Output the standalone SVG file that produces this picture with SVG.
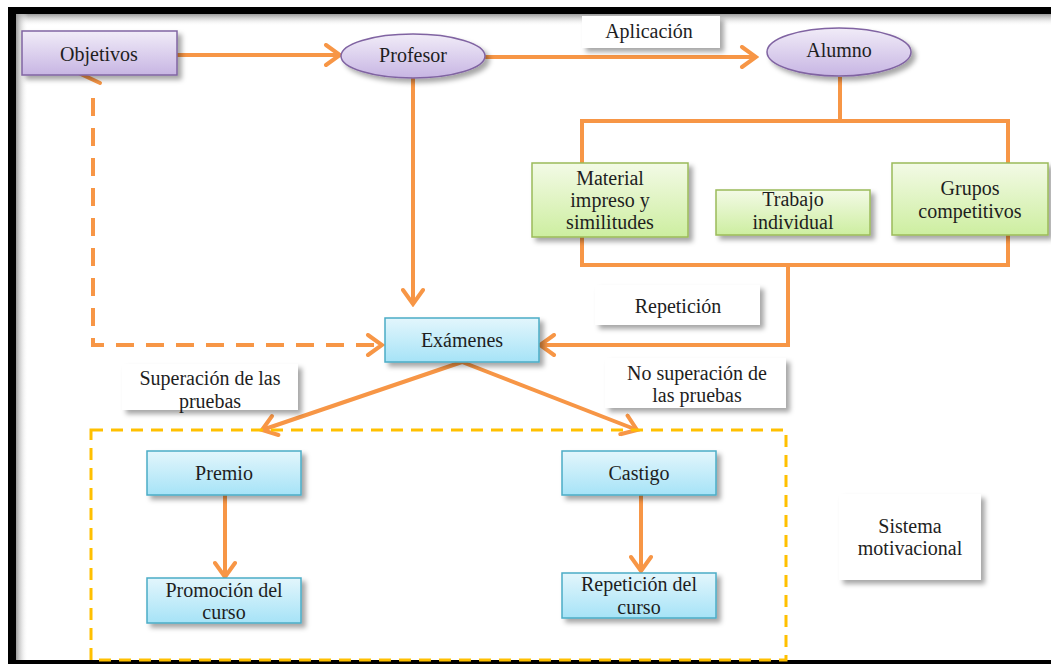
<svg xmlns="http://www.w3.org/2000/svg" width="1051" height="664" viewBox="0 0 1051 664">
  <style>
    .con { fill: none; stroke: #f79646; stroke-width: 4; stroke-linejoin: miter; }
    .dash { stroke-dasharray: 18 12; }
    .purple { fill: url(#gPurple); stroke: #8064a2; stroke-width: 1.5; filter: url(#shadow); }
    .green { fill: url(#gGreen); stroke: #9bbb59; stroke-width: 1.5; filter: url(#shadow); }
    .blue { fill: url(#gBlue); stroke: #4bacc6; stroke-width: 1.5; filter: url(#shadow); }
    .label { fill: #ffffff; filter: url(#shadow); }
  </style>
  <defs>
    <linearGradient id="gPurple" x1="0" y1="0" x2="0" y2="1">
      <stop offset="0" stop-color="#f1ecf8"/>
      <stop offset="1" stop-color="#c7b5e3"/>
    </linearGradient>
    <linearGradient id="gGreen" x1="0" y1="0" x2="0" y2="1">
      <stop offset="0" stop-color="#f3fae6"/>
      <stop offset="1" stop-color="#cdeea0"/>
    </linearGradient>
    <linearGradient id="gBlue" x1="0" y1="0" x2="0" y2="1">
      <stop offset="0" stop-color="#e3f6fc"/>
      <stop offset="1" stop-color="#a6e3f7"/>
    </linearGradient>
    <linearGradient id="gTopShade" x1="0" y1="0" x2="0" y2="1">
      <stop offset="0" stop-color="#9a9a9a"/>
      <stop offset="1" stop-color="#ffffff" stop-opacity="0"/>
    </linearGradient>
    <linearGradient id="gLeftShade" x1="0" y1="0" x2="1" y2="0">
      <stop offset="0" stop-color="#9a9a9a"/>
      <stop offset="1" stop-color="#ffffff" stop-opacity="0"/>
    </linearGradient>
    <filter id="shadow" x="-20%" y="-20%" width="150%" height="160%">
      <feDropShadow dx="4" dy="4" stdDeviation="2.5" flood-color="#000000" flood-opacity="0.35"/>
    </filter>
    <marker id="arrow" viewBox="0 0 20 24" refX="17" refY="12" markerWidth="20" markerHeight="24" markerUnits="userSpaceOnUse" orient="auto">
      <path d="M3,2 L17,12 L3,22" fill="none" stroke="#f79646" stroke-width="4" stroke-linecap="round"/>
    </marker>
  </defs>

  <!-- page frame -->
  <rect x="0" y="0" width="1051" height="664" fill="#ffffff"/>
  <rect x="16" y="14" width="1035" height="12" fill="url(#gTopShade)"/>
  <rect x="16" y="14" width="12" height="646" fill="url(#gLeftShade)"/>
  <rect x="8" y="7" width="1043" height="7" fill="#000000"/>
  <rect x="8" y="7" width="8" height="657" fill="#000000"/>
  <rect x="8" y="660" width="1043" height="4" fill="#000000"/>

  <!-- connectors -->
  <g id="connectors">
    <line class="con" x1="177" y1="55" x2="340" y2="55" marker-end="url(#arrow)"/>
    <line class="con" x1="485" y1="57" x2="756" y2="57" marker-end="url(#arrow)"/>
    <line class="con" x1="413" y1="78" x2="413" y2="304" marker-end="url(#arrow)"/>
    <polyline class="con" points="840,77 840,121"/>
    <polyline class="con" points="582,165 582,121 1008,121 1008,165"/>
    <polyline class="con" points="582,237 582,265 1008,265 1008,235"/>
    <polyline class="con" points="788,265 788,345 540,345" marker-end="url(#arrow)"/>
    <polyline class="con dash" points="93,98 93,345 382,345" marker-end="url(#arrow)"/>
    <path class="con" d="M100,67 L83,75 L100,83" stroke-linecap="round"/>
    <line class="con" x1="462" y1="362" x2="262" y2="430" marker-end="url(#arrow)"/>
    <line class="con" x1="462" y1="362" x2="637" y2="430" marker-end="url(#arrow)"/>
    <line class="con" x1="225" y1="495" x2="225" y2="577" marker-end="url(#arrow)"/>
    <line class="con" x1="641" y1="495" x2="641" y2="571" marker-end="url(#arrow)"/>
  </g>

  <!-- motivational system boundary -->
  <rect id="motivational-area" x="91" y="430" width="695" height="230" fill="none" stroke="#ffc000" stroke-width="3" stroke-dasharray="12 8"/>

  <g font-family="Liberation Serif, Times New Roman, serif" font-size="20" fill="#1e1e1e" text-anchor="middle">
    <!-- edge labels -->
    <g id="lbl-aplicacion">
      <rect class="label" x="582" y="16" width="138" height="32"/>
      <text x="649" y="38">Aplicación</text>
    </g>
    <g id="lbl-repeticion">
      <rect class="label" x="595" y="285" width="165" height="40"/>
      <text x="678" y="313">Repetición</text>
    </g>
    <g id="lbl-superacion">
      <rect class="label" x="122" y="364" width="176" height="46"/>
      <text x="210" y="385">Superación de las</text>
      <text x="210" y="408">pruebas</text>
    </g>
    <g id="lbl-no-superacion">
      <rect class="label" x="605" y="358" width="181" height="50"/>
      <text x="697" y="380">No superación de</text>
      <text x="697" y="402">las pruebas</text>
    </g>

    <!-- nodes -->
    <g id="objetivos">
      <rect class="purple" x="22" y="31" width="155" height="44"/>
      <text x="99" y="61">Objetivos</text>
    </g>
    <g id="profesor">
      <ellipse class="purple" cx="413" cy="56" rx="72" ry="22"/>
      <text x="413" y="62">Profesor</text>
    </g>
    <g id="alumno">
      <ellipse class="purple" cx="839" cy="52" rx="72" ry="24"/>
      <text x="839" y="57">Alumno</text>
    </g>
    <g id="material">
      <rect class="green" x="532" y="163" width="156" height="74"/>
      <text x="610" y="185">Material</text>
      <text x="610" y="207">impreso y</text>
      <text x="610" y="229">similitudes</text>
    </g>
    <g id="trabajo">
      <rect class="green" x="716" y="190" width="154" height="45"/>
      <text x="793" y="206">Trabajo</text>
      <text x="793" y="229">individual</text>
    </g>
    <g id="grupos">
      <rect class="green" x="892" y="163" width="156" height="72"/>
      <text x="970" y="195">Grupos</text>
      <text x="970" y="218">competitivos</text>
    </g>
    <g id="examenes">
      <rect class="blue" x="385" y="318" width="154" height="44"/>
      <text x="462" y="347">Exámenes</text>
    </g>
    <g id="premio">
      <rect class="blue" x="147" y="451" width="154" height="44"/>
      <text x="224" y="480">Premio</text>
    </g>
    <g id="castigo">
      <rect class="blue" x="562" y="451" width="154" height="44"/>
      <text x="639" y="480">Castigo</text>
    </g>
    <g id="promocion">
      <rect class="blue" x="147" y="578" width="154" height="45"/>
      <text x="224" y="597">Promoción del</text>
      <text x="224" y="619">curso</text>
    </g>
    <g id="repeticion-curso">
      <rect class="blue" x="562" y="573" width="154" height="45"/>
      <text x="639" y="591">Repetición del</text>
      <text x="639" y="614">curso</text>
    </g>
    <g id="sistema">
      <rect class="label" x="839" y="494" width="142" height="86"/>
      <text x="910" y="533">Sistema</text>
      <text x="910" y="555">motivacional</text>
    </g>
  </g>
</svg>
